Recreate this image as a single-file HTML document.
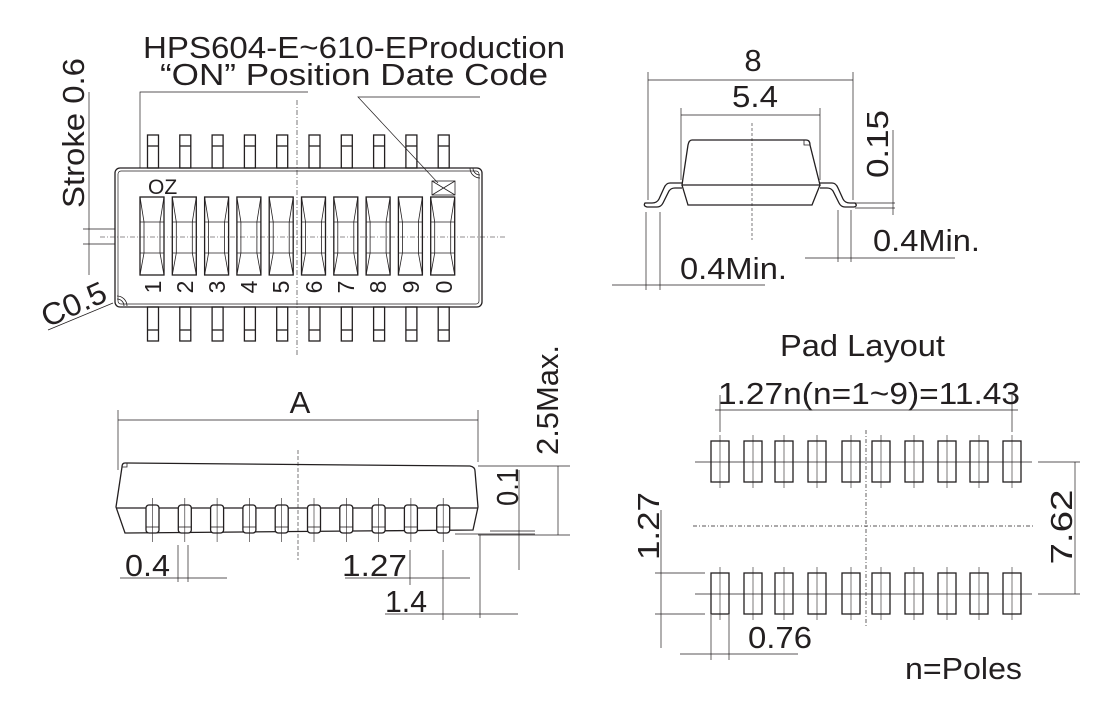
<!DOCTYPE html>
<html><head><meta charset="utf-8"><style>
html,body{margin:0;padding:0;background:#fff}
svg{display:block}
text{font-family:"Liberation Sans",sans-serif;fill:#231f20}
</style></head><body>
<svg width="1120" height="712" viewBox="0 0 1120 712" xmlns="http://www.w3.org/2000/svg">
<g stroke="#231f20" fill="none" stroke-width="1.3">
<rect x="115" y="168" width="367" height="139" rx="5"/>
<rect x="118" y="171" width="361" height="133" rx="3" stroke-width="0.7"/>
<path d="M117 296 a10 10 0 0 1 10 10 M117 299 a7 7 0 0 1 7 7" stroke-width="0.8"/>
<path d="M480 178 a10 10 0 0 1 -10 -10 M480 175 a7 7 0 0 1 -7 -7" stroke-width="0.8"/>
<g id="pins">
<rect x="147.5" y="135" width="11" height="33"/><line x1="147.5" y1="146" x2="158.5" y2="146"/>
<rect x="147.5" y="307" width="11" height="34"/><line x1="147.5" y1="330" x2="158.5" y2="330"/>
<rect x="140" y="197" width="24" height="78"/>
<path d="M140 197 L144 222 L160 222 L164 197 M144 222 L144 253 M160 222 L160 253 M144 253 L140 275 M160 253 L164 275 M140 222 L164 222 M140 253 L164 253" stroke-width="0.8"/>
</g>
<use href="#pins" x="32.3"/><use href="#pins" x="64.6"/><use href="#pins" x="96.9"/><use href="#pins" x="129.2"/>
<use href="#pins" x="161.5"/><use href="#pins" x="193.8"/><use href="#pins" x="226.1"/><use href="#pins" x="258.4"/><use href="#pins" x="290.7"/>
<rect x="432" y="181" width="23" height="14" stroke-width="0.8"/>
<path d="M432 181 L455 195 M455 181 L432 195" stroke-width="0.8"/>
<line x1="297" y1="100" x2="297" y2="355" stroke-width="0.6" stroke-dasharray="5,2,1,2"/>
<line x1="100" y1="237" x2="505" y2="237" stroke-width="0.6" stroke-dasharray="5,2,1,2"/>
<path d="M140 168 L140 92 L308 92" stroke-width="0.7"/>
<path d="M480 97 L358 97 L438 183" stroke-width="0.7"/>
<path d="M89 92 L89 275 M83 229 L115 229 M83 244 L115 244" stroke-width="0.7"/>
<path d="M48 330 L113 303" stroke-width="0.7"/>

<path d="M125 463 L470 466 Q475 467 475 471 L478 507 L473 530 L125 533 L116 507 L122 467 Q122 463 125 463 Z"/>
<path d="M122 467 L127 467 L127 463" stroke-width="0.8"/>
<line x1="116" y1="508" x2="478" y2="508"/>
<g id="sp">
<rect x="146" y="505" width="13" height="28" rx="3" fill="#fff"/>
<line x1="146" y1="527" x2="159" y2="527" stroke-width="0.8"/>
<line x1="152.5" y1="498" x2="152.5" y2="542" stroke-width="0.6"/>
</g>
<use href="#sp" x="32.3"/><use href="#sp" x="64.6"/><use href="#sp" x="96.9"/><use href="#sp" x="129.2"/>
<use href="#sp" x="161.5"/><use href="#sp" x="193.8"/><use href="#sp" x="226.1"/><use href="#sp" x="258.4"/><use href="#sp" x="290.7"/>
<line x1="298" y1="450" x2="298" y2="560" stroke-width="0.6" stroke-dasharray="4,2"/>
<g stroke-width="0.7">
<path d="M118 410 L118 470 M478 410 L478 462 M118 420 L478 420"/>
<path d="M478 466 L570 466 M478 535 L570 535 M558 466 L558 535"/>
<path d="M490 531 L535 531 M455 534 L535 534 M519 470 L519 570"/>
<path d="M120 578 L227 578 M178 545 L178 582 M188 545 L188 582"/>
<path d="M345 578 L470 578 M410 550 L410 585 M443 550 L443 620"/>
<path d="M385 614 L518 614 M480 535 L480 618"/>
</g>

<path d="M692 140 L806 140 Q810 140 810 145 L820 185 L682 185 L688 145 Q689 140 692 140 Z"/>
<path d="M682 185 L688 205 L812 205 L820 185"/>
<path d="M804 140 L804 145 L810 145" stroke-width="0.8"/>
<path d="M682 183 L670 183 Q666 183 664 188 L659 199 Q657 203 652 203 L645 203 Q643 206 647 207 L657 207 Q661 207 663 203 L669 191 Q671 188 675 188 L682 188"/>
<path d="M820 183 L832 183 Q836 183 838 188 L843 199 Q845 203 850 203 L855 203 Q858 206 854 207 L845 207 Q841 207 839 203 L833 191 Q831 188 827 188 L820 188"/>
<line x1="752" y1="123" x2="752" y2="240" stroke-width="0.6" stroke-dasharray="3,2"/>
<g stroke-width="0.7">
<path d="M648 72 L648 200 M853 72 L853 200 M648 80 L853 80"/>
<path d="M681 108 L681 180 M820 108 L820 180 M681 115 L820 115"/>
<path d="M893 130 L893 215 M855 203 L895 203 M855 208 L895 208"/>
<path d="M805 258 L955 258 M838 210 L838 262 M851 210 L851 262"/>
<path d="M612 285 L765 285 M646 212 L646 290 M660 212 L660 290"/>
</g>

<g id="pad">
<rect x="711" y="441" width="18" height="41"/>
<rect x="711" y="573" width="18" height="41"/>
<line x1="720" y1="435" x2="720" y2="488" stroke-width="0.6"/>
<line x1="720" y1="567" x2="720" y2="620" stroke-width="0.6"/>
</g>
<use href="#pad" x="33"/><use href="#pad" x="64"/><use href="#pad" x="97"/><use href="#pad" x="131"/>
<use href="#pad" x="161"/><use href="#pad" x="194"/><use href="#pad" x="227"/><use href="#pad" x="259"/><use href="#pad" x="292"/>
<g stroke-width="0.7">
<path d="M695 462 L1032 462 M695 594 L1032 594"/>
<path d="M693 526 L1035 526 M866 430 L866 628" stroke-dasharray="4,2,1,2"/>
<path d="M715 410 L1018 410 M720 395 L720 432 M1012 395 L1012 432"/>
<path d="M1038 462 L1080 462 M1038 594 L1080 594 M1075 462 L1075 594"/>
<path d="M661 510 L661 648 M655 573 L705 573 M655 614 L705 614"/>
<path d="M680 654 L798 654 M711 615 L711 660 M729 615 L729 660"/>
</g>
</g>

<g lengthAdjust="spacingAndGlyphs">
<text x="143" y="58" font-size="31" textLength="422" lengthAdjust="spacingAndGlyphs">HPS604-E~610-EProduction</text>
<text x="160" y="85" font-size="31" textLength="388" lengthAdjust="spacingAndGlyphs">“ON” Position Date Code</text>
<text transform="translate(84,133) rotate(-90)" font-size="31" text-anchor="middle" textLength="150" lengthAdjust="spacingAndGlyphs">Stroke 0.6</text>
<text transform="translate(78,314) rotate(-24)" font-size="31" text-anchor="middle" textLength="68" lengthAdjust="spacingAndGlyphs">C0.5</text>
<text x="148" y="194" font-size="21">OZ</text>
<g font-size="23" text-anchor="middle">
<text transform="translate(161,287) rotate(-90)">1</text>
<text transform="translate(193,287) rotate(-90)">2</text>
<text transform="translate(225,287) rotate(-90)">3</text>
<text transform="translate(257,287) rotate(-90)">4</text>
<text transform="translate(289,287) rotate(-90)">5</text>
<text transform="translate(322,287) rotate(-90)">6</text>
<text transform="translate(354,287) rotate(-90)">7</text>
<text transform="translate(386,287) rotate(-90)">8</text>
<text transform="translate(419,287) rotate(-90)">9</text>
<text transform="translate(452,287) rotate(-90)">0</text>
</g>
<g font-size="31">
<text x="300" y="413" text-anchor="middle">A</text>
<text transform="translate(558,400) rotate(-90)" text-anchor="middle" textLength="110" lengthAdjust="spacingAndGlyphs">2.5Max.</text>
<text transform="translate(518,487) rotate(-90)" text-anchor="middle" textLength="38" lengthAdjust="spacingAndGlyphs">0.1</text>
<text x="125" y="576" textLength="45" lengthAdjust="spacingAndGlyphs">0.4</text>
<text x="342" y="576" textLength="65" lengthAdjust="spacingAndGlyphs">1.27</text>
<text x="385" y="612" textLength="42" lengthAdjust="spacingAndGlyphs">1.4</text>
<text x="753" y="71" text-anchor="middle">8</text>
<text x="755" y="107" text-anchor="middle" textLength="46" lengthAdjust="spacingAndGlyphs">5.4</text>
<text transform="translate(888,144) rotate(-90)" text-anchor="middle" textLength="68" lengthAdjust="spacingAndGlyphs">0.15</text>
<text x="873" y="251" textLength="107" lengthAdjust="spacingAndGlyphs">0.4Min.</text>
<text x="680" y="279" textLength="107" lengthAdjust="spacingAndGlyphs">0.4Min.</text>
<text x="780" y="356" textLength="165" lengthAdjust="spacingAndGlyphs">Pad Layout</text>
<text x="718" y="404" textLength="302" lengthAdjust="spacingAndGlyphs">1.27n(n=1~9)=11.43</text>
<text transform="translate(1072,527) rotate(-90)" text-anchor="middle" textLength="75" lengthAdjust="spacingAndGlyphs">7.62</text>
<text transform="translate(659,526) rotate(-90)" text-anchor="middle" textLength="68" lengthAdjust="spacingAndGlyphs">1.27</text>
<text x="748" y="648" textLength="64" lengthAdjust="spacingAndGlyphs">0.76</text>
<text x="905" y="679" textLength="117" lengthAdjust="spacingAndGlyphs">n=Poles</text>
</g>
</g>
</svg>
</body></html>
